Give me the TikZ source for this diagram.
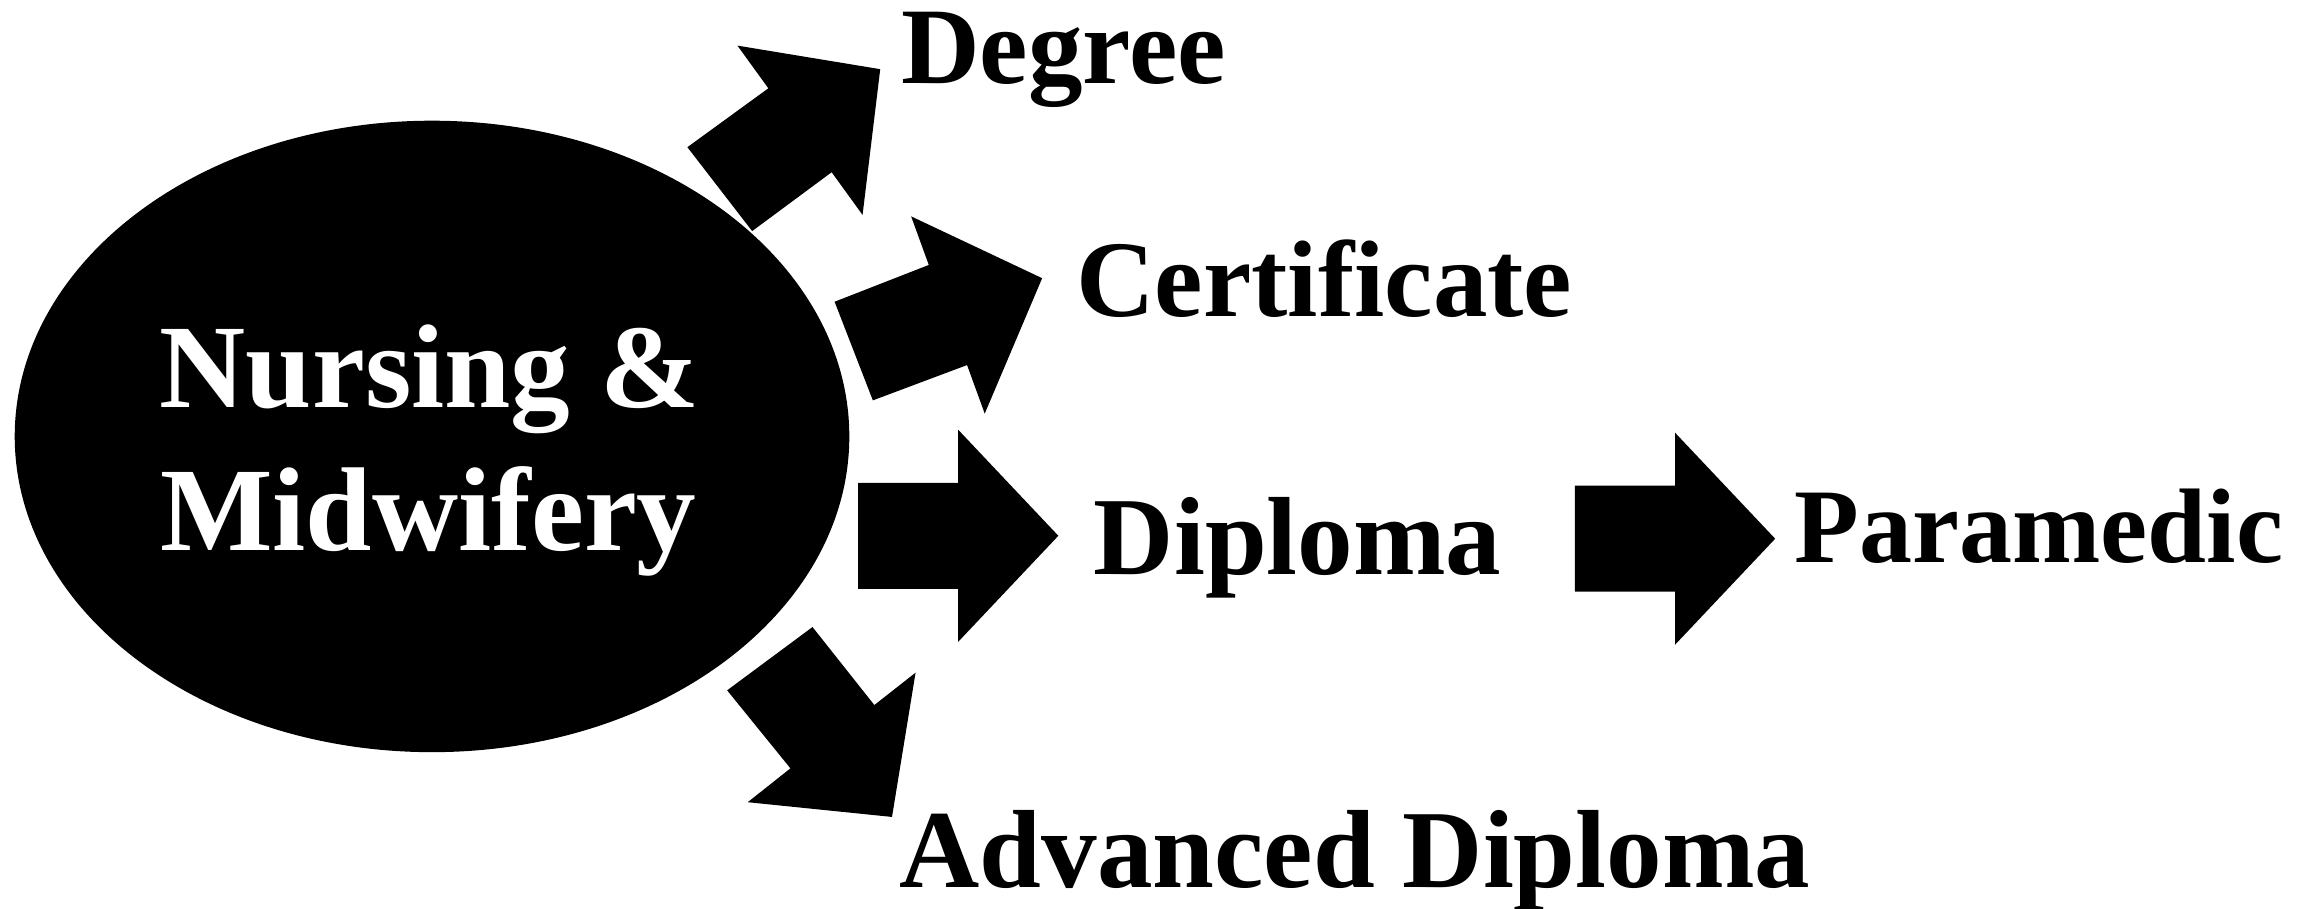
\documentclass[tikz,border=0pt]{standalone}
\usepackage{fontspec}
\setmainfont{Liberation Serif}
\begin{document}
\begin{tikzpicture}[x=1pt,y=-1pt,
  lbl/.style={inner sep=0pt, anchor=base west, font=\fontsize{74}{80}\selectfont\bfseries},
  inlbl/.style={inner sep=0pt, anchor=base, text=white, font=\fontsize{81}{86}\selectfont\bfseries},
  blockarrow/.style={fill=black, draw=none}]
\useasboundingbox (0,0) rectangle (1568,617);
\fill (293.5,296.5) ellipse [x radius=283.5, y radius=214.5];
\coordinate (nm) at (293.5,296.5);
\node[inlbl] (nursing) at (292,277) {Nursing \&};
\node[inlbl] (midwifery) at (291,374) {Midwifery};
\node[lbl] (degree) at (612,57) {Degree};
\node[lbl] (certificate) at (731,215) {Certificate};
\node[lbl, font=\fontsize{75.5}{80}\selectfont\bfseries] (diploma) at (743,390) {Diploma};
\node[lbl, font=\fontsize{72}{80}\selectfont\bfseries] (paramedic) at (1219,382) {Paramedic};
\node[lbl, font=\fontsize{75.5}{80}\selectfont\bfseries] (advanced) at (611,603) {Advanced Diploma};
% block arrows
\path[blockarrow] (467,100) -- (522,60) -- (501,31) -- (598,47) -- (586,146) -- (565,117) -- (511,157) -- cycle;
\path[blockarrow] (567,205) -- (631,180) -- (619,147) -- (708,189) -- (669,281) -- (657,248) -- (593,272) -- cycle;
\path[blockarrow] (583,328) -- (651,328) -- (651,292) -- (719,364) -- (651,436) -- (651,400) -- (583,400) -- cycle;
\path[blockarrow] (494,469) -- (552,426) -- (594,479) -- (622,457) -- (606,555) -- (508,545) -- (537,522) -- cycle;
\path[blockarrow] (1070,330) -- (1138,330) -- (1138,294) -- (1206,366) -- (1138,438) -- (1138,402) -- (1070,402) -- cycle;
\end{tikzpicture}
\end{document}
